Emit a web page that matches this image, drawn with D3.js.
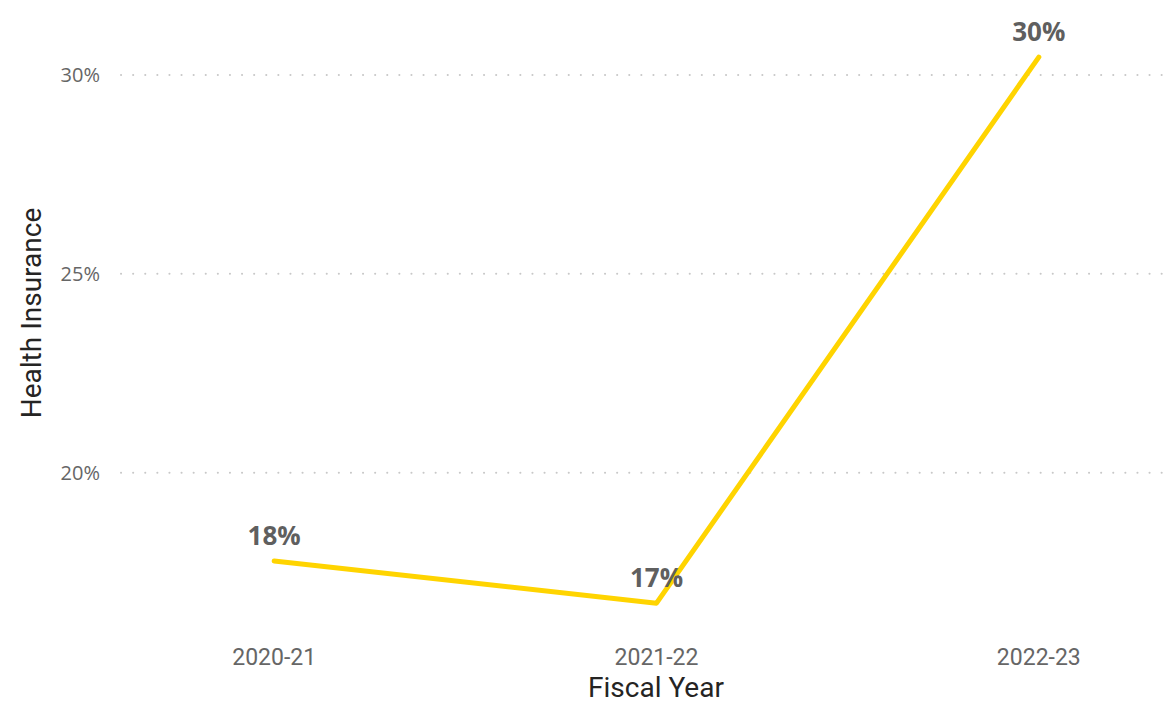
<!DOCTYPE html>
<html>
<head>
<meta charset="utf-8">
<script src="https://cdn.jsdelivr.net/npm/d3@7"></script>
<style>
    body { margin: 0; background: #fff; }
    svg { display: block; }
    .tick-y text { font-family: "Open Sans", "Noto Sans", sans-serif; font-size: 20px; fill: #666; }
    .tick-x text { font-family: "Roboto", sans-serif; font-size: 23px; fill: #666; }
    .axis-title { font-family: "Roboto", sans-serif; font-size: 28px; fill: #252423; }
    .data-label { font-family: "Open Sans", "Noto Sans", sans-serif; font-size: 26px; font-weight: bold; fill: #5f5f5f; }
</style>
</head>
<body>
<div id="chart"></div>
<script>
document.addEventListener('DOMContentLoaded', function() {
    // Data
    const years = ['2020-21', '2021-22', '2022-23'];
    const healthInsurance = [17.78, 16.72, 30.45];
    const yTicks = [20, 25, 30];

    const width = 1168;
    const height = 703;

    const svg = d3.select('#chart')
        .append('svg')
        .attr('width', width)
        .attr('height', height);

    // Scales
    const xScale = d3.scalePoint()
        .domain(years)
        .range([83, 1230])
        .padding(0.5);

    const yScale = d3.scaleLinear()
        .domain([20, 30])
        .range([472.7, 75]);

    // Gridlines
    const grid = svg.append('g').attr('class', 'grid');
    grid.selectAll('line')
        .data(yTicks)
        .enter()
        .append('line')
        .attr('x1', 121)
        .attr('x2', width)
        .attr('y1', d => yScale(d))
        .attr('y2', d => yScale(d))
        .attr('stroke', '#c8c8c8')
        .attr('stroke-width', 2)
        .attr('stroke-linecap', 'round')
        .attr('stroke-dasharray', '0.1 12');

    // Y axis labels
    const yAxis = svg.append('g').attr('class', 'tick-y');
    yAxis.selectAll('text')
        .data(yTicks)
        .enter()
        .append('text')
        .attr('x', 100)
        .attr('y', d => yScale(d))
        .attr('dy', '0.35em')
        .attr('text-anchor', 'end')
        .text(d => d + '%');

    // X axis labels
    const xAxis = svg.append('g').attr('class', 'tick-x');
    xAxis.selectAll('text')
        .data(years)
        .enter()
        .append('text')
        .attr('x', d => xScale(d))
        .attr('y', 657)
        .attr('dy', '0.35em')
        .attr('text-anchor', 'middle')
        .text(d => d);

    // Axis titles
    svg.append('text')
        .attr('class', 'axis-title')
        .attr('x', 656)
        .attr('y', 697)
        .attr('text-anchor', 'middle')
        .text('Fiscal Year');

    svg.append('text')
        .attr('class', 'axis-title')
        .attr('transform', 'translate(31,313) rotate(-90)')
        .attr('dy', '0.35em')
        .attr('text-anchor', 'middle')
        .text('Health Insurance');

    // Line
    const line = d3.line()
        .x((d, i) => xScale(years[i]))
        .y(d => yScale(d));

    svg.append('path')
        .datum(healthInsurance)
        .attr('fill', 'none')
        .attr('stroke', '#FFD400')
        .attr('stroke-width', 5)
        .attr('stroke-linecap', 'round')
        .attr('stroke-linejoin', 'round')
        .attr('d', line);

    // Data labels
    svg.append('g')
        .selectAll('text')
        .data(healthInsurance)
        .enter()
        .append('text')
        .attr('class', 'data-label')
        .attr('x', (d, i) => xScale(years[i]))
        .attr('y', d => yScale(d) - 25)
        .attr('dy', '0.35em')
        .attr('text-anchor', 'middle')
        .text(d => d3.format('.0f')(d) + '%');
});
</script>
</body>
</html>
